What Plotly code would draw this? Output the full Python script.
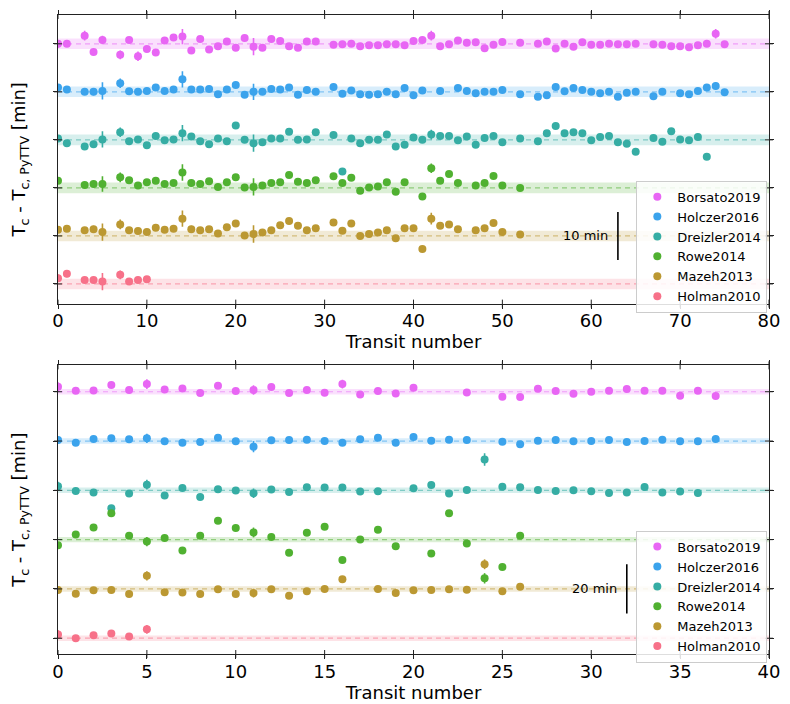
import plotly.graph_objects as go

# ---------------- series meta ----------------
NAMES = ["Borsato2019", "Holczer2016", "Dreizler2014", "Rowe2014", "Mazeh2013", "Holman2010"]
COLORS = ["#e866f4", "#3ba3ec", "#36ada4", "#50b131", "#bb9832", "#f77189"]

# vertical offset between catalogues [min]
OFFSET_A = 10
OFFSET_B = 20
# scale bars [min]
BAR_A = 10
BAR_B = 20
BAR_A_X = 63
BAR_B_X = 32
# half width of the shaded band around each level [min]
BAND_HALF = 1.1

X_TICKS_A = [0, 10, 20, 30, 40, 50, 60, 70, 80]
X_TICKS_B = [0, 5, 10, 15, 20, 25, 30, 35, 40]

# ---------------- planet A (upper panel) ----------------
BORSATO_A_N = [0, 1, 3, 4, 5, 7, 8, 9, 10, 11, 12, 13, 14, 15, 16, 17, 18, 19, 20, 21, 22, 23, 24, 25, 26, 27, 28, 29,
               31, 32, 33, 34, 35, 36, 37, 38, 39, 40, 41, 42, 43, 44, 45, 46, 47, 48, 49, 50, 52,
               54, 55, 56, 57, 58, 59, 60, 61, 62, 63, 64, 65, 67, 68, 69, 70, 71, 72, 73, 74, 75]
BORSATO_A_DT = [0.0, 0.0, 1.7, -1.7, 0.8, -2.3, 0.8, -2.6, -1.1, -1.8, 0.7, 1.3, 1.5, -1.4, 1.0, -1.2, -0.5, 0.5, -0.8,
                1.2, -0.6, -0.8, 1.0, 0.6, -0.5, -0.8, 0.5, 0.5,
                -0.2, -0.1, 0.0, -0.5, -0.3, -0.3, -0.1, -0.1, -0.3, 0.6, 0.8, 1.7, -0.5, -0.1, 0.7, 0.2, 0.3, -0.9, -0.2,
                0.4, 0.2,
                0.0, 0.5, -1.0, 0.0, -0.6, 0.3, -0.2, -0.2, 0.0, -0.1, -0.1, 0.0, -0.1, -0.2, -0.5, -0.5, -0.7, -0.3,
                0.0, 2.1, -0.1]
BORSATO_A_ERR = [0.8, 0.5, 1.0, 0.6, 0.9, 0.9, 0.6, 1.0, 0.6, 0.6, 0.6, 0.6, 1.6, 0.7, 0.6, 0.6, 0.6, 0.6, 0.6,
                 0.6, 1.8, 0.6, 0.6, 0.6, 0.5, 0.5, 0.5, 0.5,
                 0.4, 0.4, 0.4, 0.4, 0.4, 0.4, 0.4, 0.4, 0.4, 0.4, 0.4, 1.0, 0.4, 0.4, 0.4, 0.4, 0.4, 0.4, 0.4,
                 0.4, 0.4,
                 0.4, 0.4, 0.4, 0.4, 0.4, 0.4, 0.4, 0.4, 0.4, 0.4, 0.4, 0.4, 0.4, 0.4, 0.4, 0.4, 0.4, 0.4,
                 0.4, 1.0, 0.4]

HOLCZER_A_N = [0, 1, 3, 4, 5, 7, 8, 9, 10, 11, 12, 13, 14, 15, 16, 17, 18, 19, 20, 21, 22, 23, 24, 25, 26, 27, 28, 29,
               31, 32, 33, 34, 35, 36, 37, 38, 39, 40, 41, 43, 45, 46, 47, 48, 49, 50, 52,
               54, 55, 56, 57, 58, 59, 60, 61, 62, 63, 64, 65, 67, 68, 70, 71, 72, 73, 74, 75]
HOLCZER_A_DT = [0.9, 0.5, 0.0, 0.0, 0.2, 1.8, 0.1, 0.0, 0.2, 0.9, 0.2, 0.5, 2.6, 0.5, 0.5, 0.6, -0.5, 0.5, 1.4,
                -0.6, 0.0, 0.0, 0.6, 0.5, 0.9, -0.6, 0.4, 0.0,
                1.0, -0.4, 0.3, -0.5, -0.6, -0.5, 0.0, -0.5, 0.8, -0.7, 0.3, 0.2, 0.8, 0.2, -0.3, 0.0, 0.0, 0.4, -0.5,
                -1.0, -0.7, 1.0, 0.1, 0.8, 0.4, 0.0, -0.3, 0.0, -1.0, -0.2, 0.0, -0.9, 0.0, -0.3, -0.5, 0.2, 0.9,
                1.2, -0.1]
HOLCZER_A_ERR = [0.6, 0.6, 0.6, 0.7, 1.8, 1.0, 0.5, 0.5, 0.5, 0.5, 0.5, 0.5, 1.7, 0.6, 0.5, 0.6, 0.5, 0.5, 0.5,
                 0.5, 1.7, 0.5, 0.5, 0.5, 0.5, 0.5, 0.5, 0.5,
                 0.4, 0.4, 0.4, 0.4, 0.4, 0.4, 0.4, 0.4, 0.4, 0.4, 0.4, 0.4, 0.4, 0.4, 0.4, 0.4, 0.4, 0.4, 0.4,
                 0.4, 0.4, 0.4, 0.4, 0.4, 0.4, 0.4, 0.4, 0.4, 0.4, 0.4, 0.4, 0.4, 0.4, 0.4, 0.4, 0.4, 0.5,
                 0.8, 0.4]

DREIZLER_A_N = [0, 1, 3, 4, 5, 7, 8, 9, 10, 11, 12, 13, 14, 15, 16, 17, 18, 19, 20, 21, 22, 23, 24, 25, 26, 27, 28, 29,
                31, 32, 33, 34, 35, 36, 37, 38, 39, 40, 41, 42, 43, 44, 45, 46, 47, 48, 49, 50, 52,
                54, 55, 56, 57, 58, 59, 60, 61, 62, 63, 64, 65, 67, 68, 69, 70, 71, 72, 73]
DREIZLER_A_DT = [0.3, -0.7, -1.4, -0.9, 0.1, 1.6, -0.3, 0.1, -1.1, 0.8, -0.1, 0.1, 1.4, 0.7, -0.3, -0.9, 0.3, -0.3,
                 3.0, 0.0, -0.7, -0.5, 0.3, 0.3, 1.7, 0.0, 0.1, 1.6,
                 1.0, -6.6, 0.3, -0.7, 0.0, 0.0, 1.1, -1.4, -1.0, 0.5, 0.0, 1.1, 0.8, 0.8, -0.1, 0.7, -1.0, 0.4, 0.8,
                 -0.5, 0.3,
                 -0.3, 1.4, 2.9, 1.4, 1.6, 1.4, -0.1, 0.6, 0.8, -0.5, -0.8, -2.5, 0.4, -0.4, 1.8, 0.1, -0.1, 0.6, -3.5]
DREIZLER_A_ERR = [0.6, 0.6, 0.6, 0.7, 1.7, 1.0, 0.5, 0.5, 0.5, 0.5, 0.5, 0.5, 1.7, 0.6, 0.5, 0.5, 0.5, 0.5,
                  0.5, 0.5, 1.8, 0.5, 0.5, 0.5, 0.5, 0.5, 0.5, 0.5,
                  0.4, 0.4, 0.4, 0.4, 0.4, 0.4, 0.4, 0.4, 0.4, 0.4, 0.4, 1.0, 0.4, 0.4, 0.4, 0.4, 0.4, 0.4, 0.4,
                  0.4, 0.4,
                  0.4, 0.4, 0.4, 0.4, 0.4, 0.4, 0.4, 0.4, 0.4, 0.4, 0.4, 0.4, 0.4, 0.4, 0.4, 0.4, 0.4, 0.4, 0.4]

ROWE_A_N = [0, 3, 4, 5, 7, 8, 9, 10, 11, 12, 13, 14, 15, 16, 17, 18, 19, 20, 21, 22, 23, 24, 25, 26, 27, 28, 29,
            31, 32, 33, 34, 35, 36, 37, 38, 39, 41, 42, 43, 44, 45, 47, 48, 49, 50, 52]
ROWE_A_DT = [1.5, 0.6, 0.8, 0.8, 2.2, 1.6, 0.5, 1.2, 1.5, 0.8, 1.0, 3.2, 1.0, 0.8, 1.4, 0.2, 1.2, 2.2, 0.1, 0.2,
             0.5, 1.0, 1.2, 2.7, 1.3, 1.0, 1.6,
             2.4, 1.0, 2.1, -0.6, 0.1, 0.3, 1.2, -0.8, 1.2, -1.8, 4.1, 1.5, 2.9, 1.0, 0.5, 1.0, 2.5, 0.5, 0.0]
ROWE_A_ERR = [0.7, 0.6, 0.7, 1.6, 1.0, 0.6, 0.6, 0.6, 0.6, 0.6, 0.6, 1.7, 0.7, 0.6, 0.6, 0.6, 0.6, 0.6, 0.6, 1.8,
              0.6, 0.6, 0.6, 0.6, 0.5, 0.5, 0.5,
              0.4, 0.4, 0.4, 0.4, 0.4, 0.4, 0.4, 0.4, 0.4, 0.4, 1.0, 0.4, 0.4, 0.4, 0.4, 0.4, 0.4, 0.4, 0.4]

MAZEH_A_N = [0, 1, 3, 4, 5, 7, 8, 9, 10, 11, 12, 13, 14, 15, 16, 17, 18, 19, 20, 21, 22, 23, 24, 25, 26, 27, 28, 29,
             31, 32, 33, 34, 35, 36, 37, 38, 39, 40, 41, 42, 43, 44, 45, 47, 48, 49, 50, 52]
MAZEH_A_DT = [1.3, 1.5, 1.2, 1.4, 0.8, 2.4, 1.2, 1.0, 0.8, 1.7, 1.3, 1.5, 3.6, 1.4, 1.2, 1.4, 0.5, 1.8, 2.6, 0.1,
              0.4, 0.7, 1.2, 2.2, 3.1, 2.1, 1.2, 1.6,
              2.8, 1.1, 2.6, 0.0, 0.4, 0.7, 1.2, -0.5, 1.6, 1.6, -2.7, 3.6, 2.1, 2.4, 1.4, 1.2, 1.6, 2.7, 0.8, 0.3]
MAZEH_A_ERR = [0.7, 0.6, 0.6, 0.7, 1.8, 1.0, 0.6, 0.6, 0.6, 0.6, 0.6, 0.6, 1.7, 0.7, 0.6, 0.6, 0.6, 0.6, 0.6, 0.6,
               1.8, 0.6, 0.6, 0.6, 0.6, 0.5, 0.5, 0.5,
               0.4, 0.4, 0.4, 0.4, 0.4, 0.4, 0.4, 0.4, 0.4, 0.4, 0.4, 1.2, 0.4, 0.4, 0.4, 0.4, 0.4, 0.4, 0.4, 0.4]

HOLMAN_A_N = [0, 1, 3, 4, 5, 7, 8, 9, 10]
HOLMAN_A_DT = [1.2, 2.1, 0.8, 0.8, 0.5, 1.9, 0.5, 0.8, 1.0]
HOLMAN_A_ERR = [0.8, 0.7, 0.6, 0.6, 1.8, 0.9, 0.6, 0.6, 0.6]

# ---------------- planet B (lower panel) ----------------
BORSATO_B_N = [0, 1, 2, 3, 4, 5, 6, 7, 8, 9, 10, 11, 12, 13, 14, 15, 16, 17, 18, 19, 20, 23,
               25, 26, 27, 28, 29, 30, 31, 32, 33, 34, 35, 36, 37]
BORSATO_B_DT = [2.0, 0.4, 0.5, 2.7, 0.7, 3.1, 0.9, 1.3, -0.5, 2.4, 0.3, 0.7, 1.9, -0.5, 0.7, -0.4, 3.1, -1.1, 0.3,
                -0.7, 1.6, -0.3, -2.0, -2.1, 1.2, 0.3, -0.8, 0.0, 0.4, 1.1, 0.4, 0.4, -1.6, 0.4, -1.7]
BORSATO_B_ERR = [1.8, 0.8, 0.8, 1.0, 0.8, 2.0, 0.8, 0.8, 0.8, 1.0, 0.8, 1.9, 0.8, 0.8, 0.8, 0.8, 1.8, 0.8, 0.8,
                 0.8, 0.8, 0.8, 0.8, 0.8, 0.8, 0.8, 0.8, 0.8, 0.8, 0.8, 0.8, 0.8, 0.8, 0.8, 0.8]

HOLCZER_B_N = [0, 1, 2, 3, 4, 5, 6, 7, 8, 9, 10, 11, 12, 13, 14, 15, 16, 17, 18, 19, 20, 21, 22, 23,
               25, 26, 27, 28, 29, 30, 31, 32, 33, 34, 35, 36, 37]
HOLCZER_B_DT = [0.4, -0.7, 0.8, 1.1, 0.7, 1.1, -0.1, -0.7, -0.4, 1.3, -0.1, -2.3, 0.3, 0.4, 0.5, 0.0, -0.7, 0.7,
                1.3, -0.7, 1.6, 0.1, 0.5, 0.4, -0.3, -1.3, 0.1, 0.4, -0.1, 0.0, 0.4, -0.4, 0.0, 0.5, -0.1, -0.1, 0.8]
HOLCZER_B_ERR = [0.8, 0.8, 0.8, 0.8, 0.8, 1.9, 0.8, 0.8, 0.8, 0.8, 0.8, 2.3, 0.8, 0.8, 0.8, 0.8, 0.8, 0.8,
                 0.8, 0.8, 0.8, 0.8, 0.8, 0.8, 0.8, 0.8, 0.8, 0.8, 0.8, 0.8, 0.8, 0.8, 0.8, 0.8, 0.8, 0.8, 0.8]

DREIZLER_B_N = [0, 1, 2, 3, 4, 5, 6, 7, 8, 9, 10, 11, 12, 13, 14, 15, 16, 17, 18,
                20, 21, 22, 23, 24, 25, 26, 27, 28, 29, 30, 31, 32, 33, 34, 35, 36]
DREIZLER_B_DT = [1.7, -0.3, -0.9, -7.3, -1.3, 2.3, -2.1, 0.9, -2.7, 0.4, -0.1, -1.2, 0.3, -0.7, 1.2, 1.1, 1.1, -0.5,
                 -0.4, 0.8, 2.2, -1.3, 0.1, 12.5, 1.5, 1.2, 0.1, -0.3, 0.0, -0.4, -1.1, -0.9, 1.3, -0.9, -0.5, -1.1]
DREIZLER_B_ERR = [1.8, 0.8, 0.8, 1.0, 0.8, 2.0, 0.8, 0.8, 0.8, 0.8, 0.8, 1.9, 0.8, 0.8, 0.8, 0.8, 0.8, 0.8,
                  0.8, 0.8, 0.8, 0.8, 0.8, 2.5, 0.8, 0.8, 0.8, 0.8, 0.8, 0.8, 0.8, 0.8, 0.8, 0.8, 0.8, 0.8]

ROWE_B_N = [0, 1, 2, 3, 4, 5, 6, 7, 8, 9, 10, 11, 12, 13, 14, 15, 16, 17, 18, 19, 21, 22, 23, 24, 25, 26]
ROWE_B_DT = [-2.3, 2.1, 4.9, 10.7, 1.6, -0.8, 0.7, -4.4, 1.6, 7.7, 4.7, 2.9, 1.1, -5.3, 2.8, 5.2, -8.3, 0.1, 4.0,
             -2.7, -5.6, 10.7, -1.6, -15.7, -11.1, 1.6]
ROWE_B_ERR = [0.8, 0.8, 0.8, 0.8, 0.8, 1.9, 0.8, 0.8, 0.8, 0.8, 0.8, 2.0, 0.8, 0.8, 0.8, 0.8, 0.8, 0.8, 0.8,
              0.8, 0.8, 0.8, 0.8, 2.1, 0.8, 0.8]

MAZEH_B_N = [0, 1, 2, 3, 4, 5, 6, 7, 8, 9, 10, 11, 12, 13, 14, 15, 16, 18, 19, 20, 21, 22, 23, 24, 25, 26]
MAZEH_B_DT = [-0.4, -2.0, -0.5, -0.4, -2.1, 5.3, -1.3, -1.5, -2.1, -0.1, -2.1, -1.7, -0.1, -2.8, -0.9, 0.0, 3.9,
              0.0, -1.7, -0.5, -0.4, -0.1, -0.3, 10.0, -0.9, 0.9]
MAZEH_B_ERR = [0.8, 0.8, 0.8, 0.8, 0.8, 1.9, 0.8, 0.8, 0.8, 0.8, 0.8, 1.8, 0.8, 0.8, 0.8, 0.8, 0.8,
               0.8, 0.8, 0.8, 0.8, 0.8, 0.8, 2.0, 0.8, 0.8]

HOLMAN_B_N = [0, 1, 2, 3, 4, 5]
HOLMAN_B_DT = [1.5, 0.0, 1.2, 1.9, 0.7, 3.6]
HOLMAN_B_ERR = [1.8, 0.8, 0.8, 0.8, 0.8, 1.8]

PANEL_A = [
    (BORSATO_A_N, BORSATO_A_DT, BORSATO_A_ERR),
    (HOLCZER_A_N, HOLCZER_A_DT, HOLCZER_A_ERR),
    (DREIZLER_A_N, DREIZLER_A_DT, DREIZLER_A_ERR),
    (ROWE_A_N, ROWE_A_DT, ROWE_A_ERR),
    (MAZEH_A_N, MAZEH_A_DT, MAZEH_A_ERR),
    (HOLMAN_A_N, HOLMAN_A_DT, HOLMAN_A_ERR),
]
PANEL_B = [
    (BORSATO_B_N, BORSATO_B_DT, BORSATO_B_ERR),
    (HOLCZER_B_N, HOLCZER_B_DT, HOLCZER_B_ERR),
    (DREIZLER_B_N, DREIZLER_B_DT, DREIZLER_B_ERR),
    (ROWE_B_N, ROWE_B_DT, ROWE_B_ERR),
    (MAZEH_B_N, MAZEH_B_DT, MAZEH_B_ERR),
    (HOLMAN_B_N, HOLMAN_B_DT, HOLMAN_B_ERR),
]

FONT = "DejaVu Sans"
AXIS_COLOR = "#222222"


def rgba(hex_color, alpha):
    h = hex_color.lstrip("#")
    r, g, b = int(h[0:2], 16), int(h[2:4], 16), int(h[4:6], 16)
    return f"rgba({r},{g},{b},{alpha})"


fig = go.Figure()
shapes = []
annotations = []


def add_panel(panel, offset, xax, yax, legend_name):
    nser = len(panel)
    for i, (n, dt, err) in enumerate(panel):
        level = (nser - 1 - i) * offset
        col = COLORS[i]
        # shaded band + dashed reference line
        shapes.append(dict(type="rect", xref=f"{xax} domain", yref=yax, x0=0, x1=1,
                           y0=level - BAND_HALF, y1=level + BAND_HALF,
                           fillcolor=rgba(col, 0.2), line=dict(width=0), layer="below"))
        shapes.append(dict(type="line", xref=f"{xax} domain", yref=yax, x0=0, x1=1,
                           y0=level, y1=level,
                           line=dict(color=rgba(col, 0.55), width=1.2, dash="5px,4px"), layer="below"))
        fig.add_trace(go.Scatter(
            x=n, y=[level + v for v in dt], mode="markers", name=NAMES[i],
            marker=dict(color=col, size=8, line=dict(width=0)),
            error_y=dict(type="data", array=err, color=col, thickness=1.6, width=0),
            xaxis=xax, yaxis=yax,
            legend=legend_name, showlegend=True,
        ))


add_panel(PANEL_A, OFFSET_A, "x", "y", "legend")
add_panel(PANEL_B, OFFSET_B, "x2", "y2", "legend2")

LEVELS_A = [k * OFFSET_A for k in range(len(PANEL_A))]
LEVELS_B = [k * OFFSET_B for k in range(len(PANEL_B))]


# inward half of the ticks (outward half drawn by the axes themselves)
def inner_ticks(xax, yax, xt, yt):
    for t in xt:
        for anchor in (0, 1):
            shapes.append(dict(type="line", xref=xax, yref=f"{yax} domain", x0=t, x1=t,
                               ysizemode="pixel", yanchor=anchor, y0=-4, y1=4,
                               line=dict(color=AXIS_COLOR, width=1)))
    for t in yt:
        for anchor in (0, 1):
            shapes.append(dict(type="line", xref=f"{xax} domain", yref=yax, y0=t, y1=t,
                               xsizemode="pixel", xanchor=anchor, x0=-4, x1=4,
                               line=dict(color=AXIS_COLOR, width=1)))


inner_ticks("x", "y", X_TICKS_A, LEVELS_A)
inner_ticks("x2", "y2", X_TICKS_B, LEVELS_B)

# scale bars
for xax, yax, bx, blen in (("x", "y", BAR_A_X, BAR_A), ("x2", "y2", BAR_B_X, BAR_B)):
    centre = blen  # bar centred on the second level
    shapes.append(dict(type="line", xref=xax, yref=yax, x0=bx, x1=bx,
                       y0=centre - blen / 2, y1=centre + blen / 2,
                       line=dict(color="black", width=1.6)))
    annotations.append(dict(xref=xax, yref=yax, x=bx, y=centre, text=f"{blen} min",
                            showarrow=False, xanchor="right", yanchor="middle", xshift=-8,
                            font=dict(family=FONT, size=13, color="black")))

TOP_DOMAIN = [0.5483, 1.0]
BOT_DOMAIN = [0.0, 0.4517]

axis_common = dict(showline=True, linecolor=AXIS_COLOR, linewidth=1, mirror="ticks",
                   ticks="outside", ticklen=4, tickcolor=AXIS_COLOR, tickwidth=1,
                   showgrid=False, zeroline=False,
                   tickfont=dict(family=FONT, size=18, color="black"))

ytitle = "T<sub>c</sub> - T<sub>c, PyTTV</sub> [min]"

legend_common = dict(xanchor="left", yanchor="top",
                     bgcolor="rgba(255,255,255,0.85)", bordercolor="#cccccc", borderwidth=1,
                     font=dict(family=FONT, size=13, color="black"), tracegroupgap=0)

fig.update_layout(
    width=790, height=704,
    margin=dict(l=58, r=14, t=10, b=46),
    paper_bgcolor="white", plot_bgcolor="white",
    font=dict(family=FONT, color="black"),
    xaxis=dict(domain=[0, 1], anchor="y", range=[0, 80], tickvals=X_TICKS_A, ticklabelstandoff=-3,
               title=dict(text="Transit number", font=dict(family=FONT, size=18), standoff=0),
               **axis_common),
    yaxis=dict(domain=TOP_DOMAIN, anchor="x", range=[-4.1, 56], tickvals=LEVELS_A, showticklabels=False,
               title=dict(text=ytitle, font=dict(family=FONT, size=18), standoff=22),
               **axis_common),
    xaxis2=dict(domain=[0, 1], anchor="y2", range=[0, 40], tickvals=X_TICKS_B, ticklabelstandoff=-3,
                title=dict(text="Transit number", font=dict(family=FONT, size=18), standoff=0),
                **axis_common),
    yaxis2=dict(domain=BOT_DOMAIN, anchor="x2", range=[-6.4, 110.7], tickvals=LEVELS_B, showticklabels=False,
                title=dict(text=ytitle, font=dict(family=FONT, size=18), standoff=22),
                **axis_common),
    legend=dict(x=0.8134, y=0.7407, **legend_common),
    legend2=dict(x=0.8134, y=0.193, **legend_common),
    shapes=shapes,
    annotations=annotations,
)

fig.write_html("out.html")
